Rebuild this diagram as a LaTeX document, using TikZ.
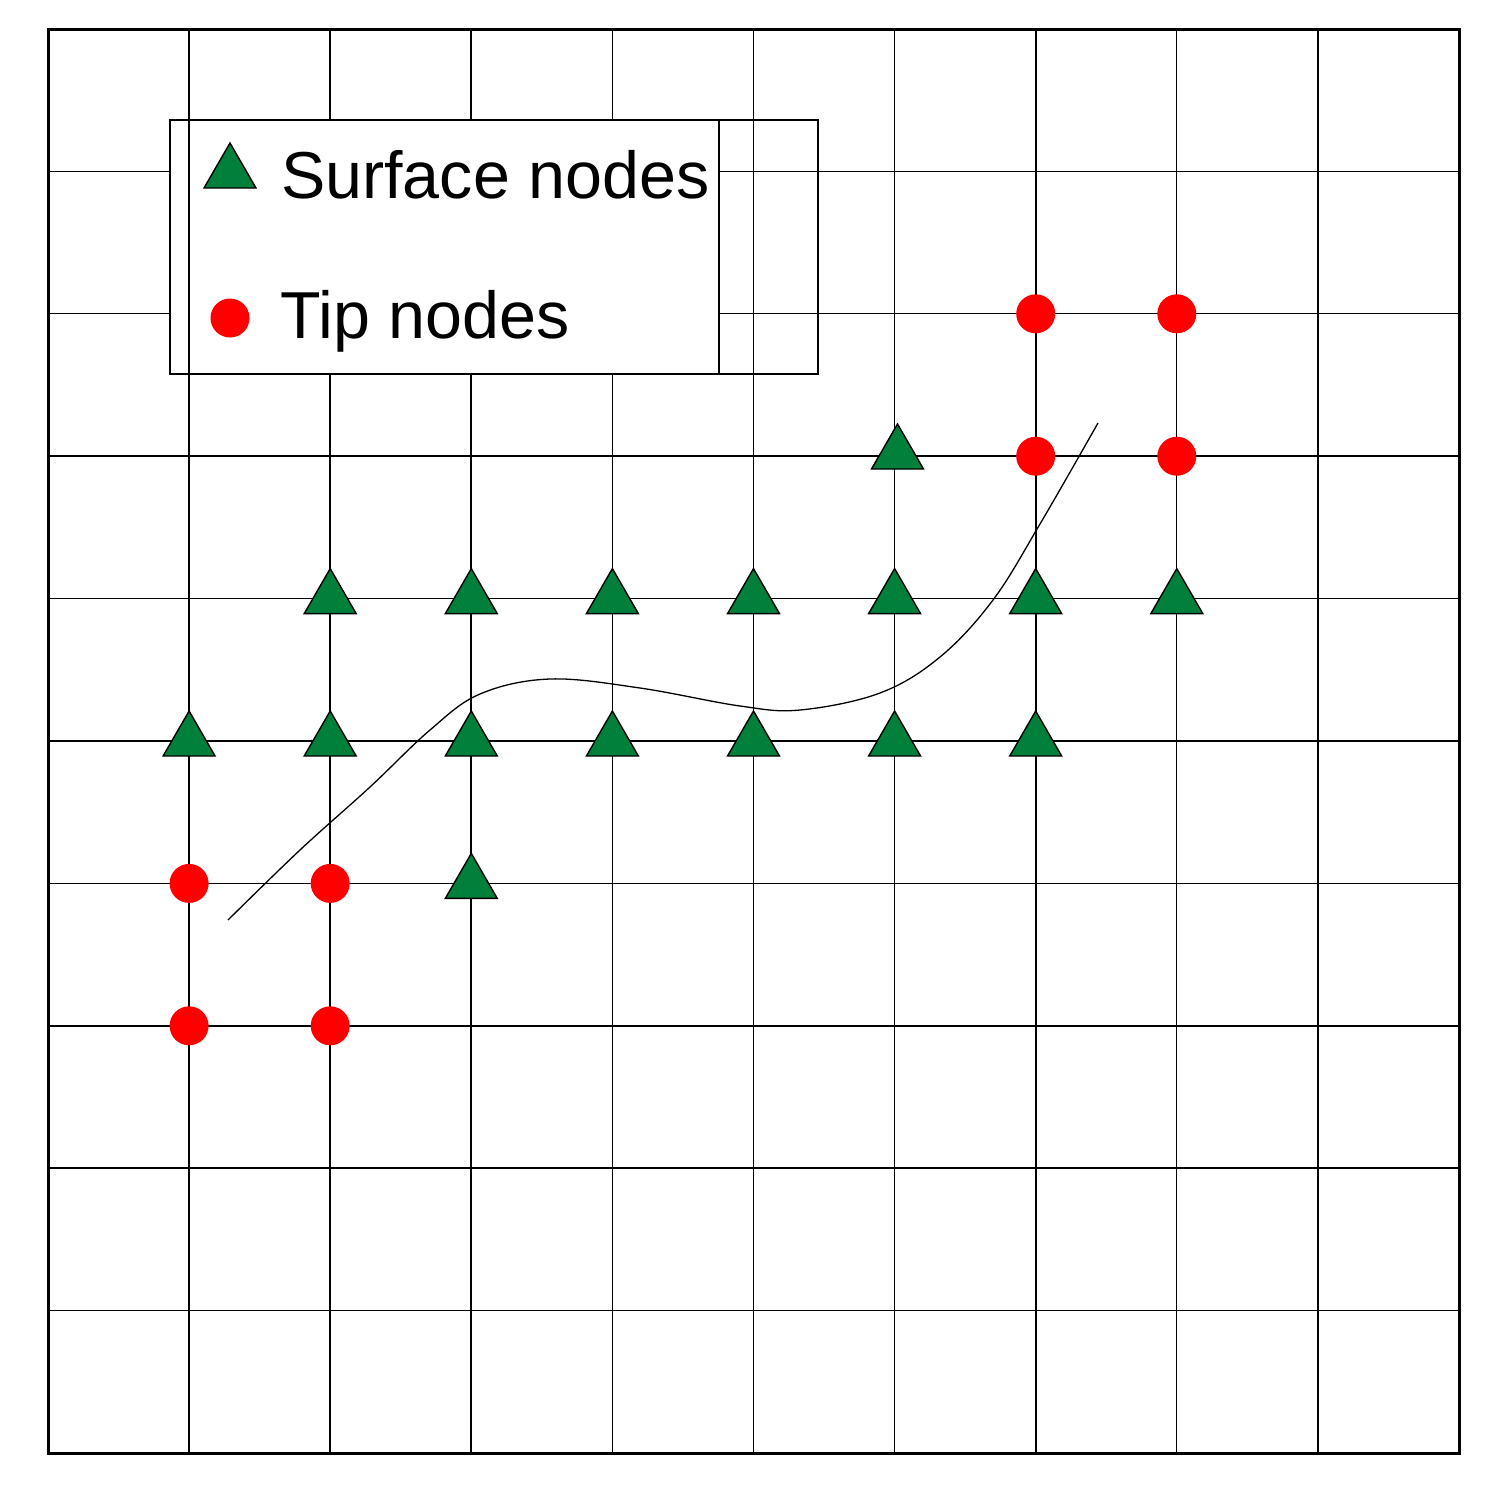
\documentclass[tikz,border=0pt]{standalone}
\usepackage{fontspec}
\setmainfont{Liberation Sans}
\usetikzlibrary{shapes.geometric}
\definecolor{surfgreen}{RGB}{0,128,58}
\definecolor{tipred}{RGB}{255,0,0}
\begin{document}
\begin{tikzpicture}[x=1pt,y=-1pt,
  gridline/.style={line width=1.3pt},
  gridbold/.style={line width=2.1pt},
  frame/.style={line width=3pt},
  surf/.style={regular polygon, regular polygon sides=3, minimum size=60pt, inner sep=0pt, fill=surfgreen, draw=black, line width=1.4pt},
  tip/.style={circle, minimum size=39pt, inner sep=0pt, fill=tipred},
  legendtext/.style={anchor=base west, inner sep=0pt, font=\fontsize{66.4}{70}\selectfont}]
\useasboundingbox (0,0) rectangle (1499,1499);
\fill[white] (0,0) rectangle (1499,1499);
% grid
\foreach \i in {1,4,5,6,8,9} {\draw[gridline] ({48+141.1*\i},29) -- ({48+141.1*\i},1453);}
\foreach \i in {2,3,7} {\draw[gridbold] ({48+141.1*\i},29) -- ({48+141.1*\i},1453);}
\foreach \j in {1,2,4,5,6,9} {\draw[gridline] (48,{29+142.4*\j}) -- (1459,{29+142.4*\j});}
\foreach \j in {3,7,8} {\draw[gridbold] (48,{29+142.4*\j}) -- (1459,{29+142.4*\j});}
\draw[frame] (48,29) rectangle (1459,1453);
% legend
\fill[white] (170,120) rectangle (719,374);
\draw[gridline] (170,120) rectangle (719,374);
\draw[gridline] (189.1,120) -- (189.1,374);
\draw[gridline] (170,120) rectangle (818,374);
\node[surf] (legsurf) at (230,173) {};
\node[tip] (legtip) at (230,318) {};
\node[legendtext] (legsurftext) at (281,198) {Surface nodes};
\node[legendtext] (legtiptext) at (280,338) {Tip nodes};
% crack curve
\draw[line width=1.3pt] plot[smooth, tension=0.6] coordinates {(228,920) (300,850) (370,787) (430,730) (480,694) (550,679) (640,688) (740,706) (800,710) (880,693) (940,657) (993,600) (1040,524) (1098,423)};
% tip nodes
\node[tip] (t1) at (1035.7,313.8) {};
\node[tip] (t2) at (1176.8,313.8) {};
\node[tip] (t3) at (1035.7,456.2) {};
\node[tip] (t4) at (1176.8,456.2) {};
\node[tip] (t5) at (189.1,883.4) {};
\node[tip] (t6) at (330.2,883.4) {};
\node[tip] (t7) at (189.1,1025.8) {};
\node[tip] (t8) at (330.2,1025.8) {};
% surface nodes
\node[surf] (s1) at (897.5,454) {};
\node[surf] (s2) at (330.2,598.6) {};
\node[surf] (s3) at (471.3,598.6) {};
\node[surf] (s4) at (612.4,598.6) {};
\node[surf] (s5) at (753.5,598.6) {};
\node[surf] (s6) at (894.6,598.6) {};
\node[surf] (s7) at (1035.7,598.6) {};
\node[surf] (s8) at (1176.8,598.6) {};
\node[surf] (s9) at (189.1,741) {};
\node[surf] (s10) at (330.2,741) {};
\node[surf] (s11) at (471.3,741) {};
\node[surf] (s12) at (612.4,741) {};
\node[surf] (s13) at (753.5,741) {};
\node[surf] (s14) at (894.6,741) {};
\node[surf] (s15) at (1035.7,741) {};
\node[surf] (s16) at (471.3,883.4) {};
\end{tikzpicture}
\end{document}
